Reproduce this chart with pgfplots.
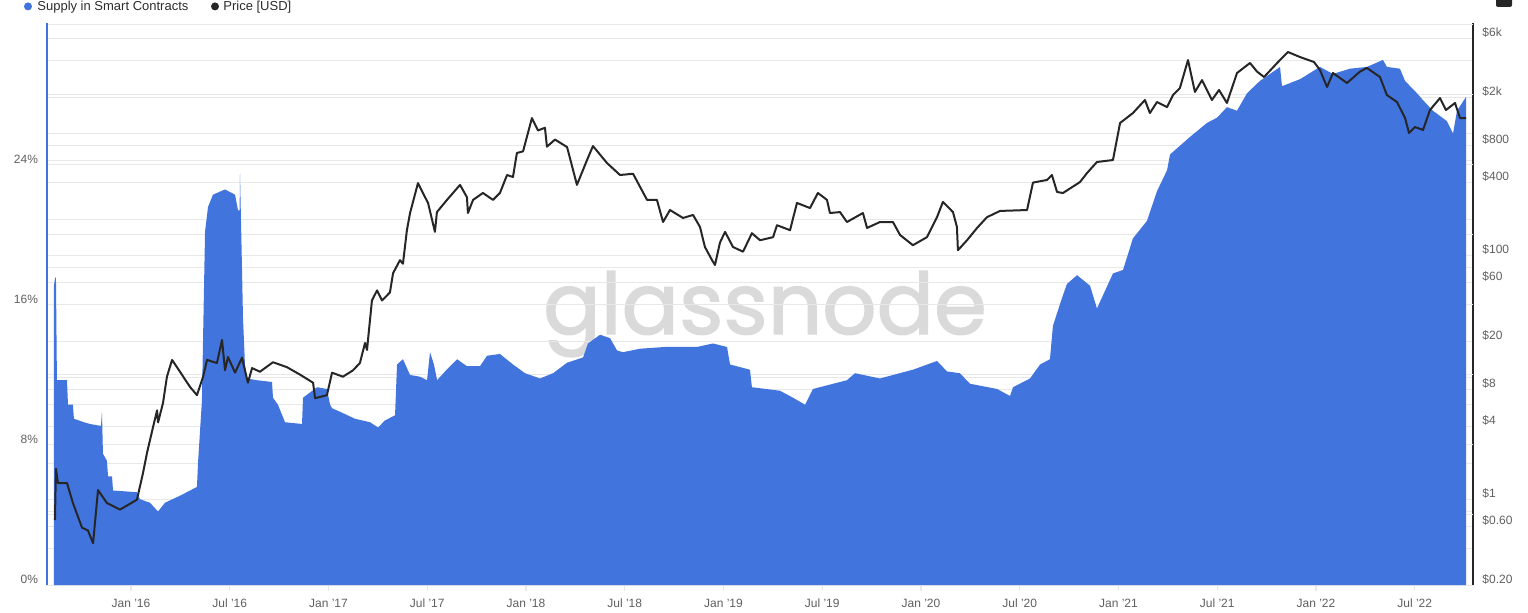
\documentclass[border=0pt]{standalone}
\usepackage{fontspec}
\setmainfont{Liberation Sans}
\newfontfamily\wmfont[FakeBold=1.6]{Poppins}
\usepackage{pgfplots}
\pgfplotsset{compat=1.18}
\usepackage{pgfplotstable}
\definecolor{gnblue}{RGB}{66,116,222}
\definecolor{gnline}{RGB}{38,38,38}
\definecolor{gridc}{RGB}{232,232,232}
\definecolor{tickc}{RGB}{95,95,95}
\definecolor{legc}{RGB}{45,45,45}
\definecolor{wmc}{RGB}{218,218,218}

\pgfplotstableread{
x y
2015.610 17.1
2015.615 17.5
2015.620 17.6
2015.625 11.7
2015.676 11.7
2015.681 10.3
2015.706 10.3
2015.711 9.5
2015.762 9.3
2015.792 9.2
2015.843 9.1
2015.848 9.1
2015.853 9.9
2015.858 7.5
2015.878 7.1
2015.884 6.2
2015.904 6.2
2015.909 5.4
2016.030 5.3
2016.046 4.9
2016.096 4.7
2016.137 4.2
2016.172 4.7
2016.248 5.1
2016.299 5.4
2016.334 5.6
2016.339 6.9
2016.359 10.5
2016.375 20.2
2016.390 21.6
2016.415 22.3
2016.476 22.6
2016.527 22.3
2016.542 21.4
2016.550 21.4
2016.552 23.5
2016.557 20.8
2016.562 18.1
2016.567 15.3
2016.577 12.6
2016.587 11.8
2016.638 11.7
2016.714 11.6
2016.719 10.7
2016.744 10.3
2016.780 9.3
2016.866 9.2
2016.871 10.7
2016.942 11.3
2016.992 11.2
2017.008 10.3
2017.018 10.1
2017.058 9.9
2017.134 9.5
2017.210 9.3
2017.251 9.0
2017.286 9.4
2017.337 9.7
2017.347 12.6
2017.377 12.9
2017.413 12.0
2017.463 11.9
2017.499 11.7
2017.514 13.3
2017.534 12.6
2017.550 11.7
2017.590 12.2
2017.651 12.9
2017.701 12.5
2017.767 12.5
2017.803 13.1
2017.868 13.2
2017.934 12.6
2017.995 12.1
2018.071 11.8
2018.137 12.1
2018.208 12.7
2018.289 13.0
2018.314 13.8
2018.375 14.3
2018.426 14.1
2018.461 13.4
2018.491 13.3
2018.577 13.5
2018.704 13.6
2018.866 13.6
2018.947 13.8
2019.018 13.6
2019.033 12.6
2019.134 12.3
2019.144 11.3
2019.286 11.1
2019.352 10.7
2019.413 10.3
2019.453 11.2
2019.625 11.7
2019.666 12.1
2019.792 11.8
2019.959 12.3
2020.081 12.8
2020.132 12.2
2020.197 12.1
2020.248 11.5
2020.385 11.2
2020.451 10.8
2020.466 11.3
2020.552 11.8
2020.603 12.6
2020.653 12.9
2020.668 14.8
2020.714 16.4
2020.739 17.2
2020.790 17.7
2020.856 17.1
2020.891 15.8
2020.972 17.8
2021.023 18.0
2021.073 19.8
2021.144 20.8
2021.195 22.5
2021.246 23.7
2021.261 24.6
2021.362 25.6
2021.448 26.4
2021.499 26.7
2021.549 27.3
2021.600 27.1
2021.651 28.1
2021.716 28.8
2021.818 29.6
2021.828 28.5
2021.919 28.9
2022.020 29.6
2022.086 29.2
2022.172 29.5
2022.258 29.6
2022.339 30.0
2022.359 29.6
2022.425 29.5
2022.451 28.8
2022.511 28.1
2022.542 27.7
2022.592 27.1
2022.663 26.5
2022.694 25.8
2022.714 27.1
2022.755 27.8
2022.760 27.9
}\supply

\pgfplotstableread{
x p
2015.615 0.68
2015.620 1.8
2015.630 1.37
2015.676 1.37
2015.706 0.94
2015.752 0.59
2015.782 0.56
2015.808 0.44
2015.833 1.2
2015.878 0.94
2015.944 0.83
2016.030 1.0
2016.061 1.66
2016.081 2.42
2016.111 3.9
2016.132 5.4
2016.137 4.3
2016.162 6.2
2016.182 10.2
2016.208 14.0
2016.248 11.2
2016.299 8.4
2016.334 7.2
2016.365 10.2
2016.385 14.0
2016.435 13.2
2016.461 20.4
2016.476 11.5
2016.491 14.8
2016.527 11.0
2016.562 14.6
2016.592 9.1
2016.613 12.0
2016.653 11.2
2016.719 13.4
2016.790 12.2
2016.856 10.6
2016.922 9.1
2016.932 6.8
2016.992 7.2
2017.018 11.0
2017.073 10.2
2017.124 11.5
2017.159 13.2
2017.185 19.3
2017.195 16.9
2017.220 43
2017.246 52
2017.271 43
2017.311 50
2017.327 72
2017.362 92
2017.377 86
2017.397 162
2017.413 224
2017.453 394
2017.478 327
2017.504 271
2017.539 157
2017.549 228
2017.600 287
2017.666 381
2017.701 302
2017.706 224
2017.732 287
2017.782 327
2017.833 287
2017.868 327
2017.904 459
2017.934 442
2017.954 696
2017.985 717
2018.030 1344
2018.061 1064
2018.096 1120
2018.106 784
2018.147 896
2018.208 778
2018.258 381
2018.309 609
2018.339 793
2018.410 576
2018.476 459
2018.542 470
2018.613 287
2018.663 287
2018.694 189
2018.729 237
2018.795 204
2018.846 216
2018.881 172
2018.906 118
2018.942 92
2018.957 84
2018.982 128
2019.008 157
2019.048 118
2019.099 108
2019.144 153
2019.185 134
2019.251 142
2019.271 178
2019.337 162
2019.372 271
2019.438 246
2019.478 327
2019.524 287
2019.539 224
2019.590 228
2019.625 189
2019.706 224
2019.727 169
2019.792 189
2019.858 189
2019.894 148
2019.959 122
2020.030 142
2020.081 207
2020.111 276
2020.162 228
2020.182 172
2020.187 111
2020.233 134
2020.284 169
2020.334 207
2020.400 233
2020.537 237
2020.567 398
2020.638 418
2020.663 459
2020.689 333
2020.719 327
2020.805 402
2020.841 477
2020.891 587
2020.972 609
2021.008 1225
2021.073 1478
2021.134 1891
2021.159 1478
2021.195 1821
2021.246 1655
2021.276 2076
2021.311 2372
2021.352 4021
2021.387 2200
2021.423 2755
2021.473 1891
2021.509 2285
2021.549 1788
2021.600 3147
2021.666 3804
2021.701 3237
2021.737 2919
2021.808 3873
2021.858 4679
2021.919 4256
2021.990 3873
2022.020 3329
2022.056 2417
2022.086 3147
2022.157 2607
2022.223 3237
2022.258 3461
2022.324 2919
2022.359 2076
2022.410 1821
2022.451 1346
2022.471 1015
2022.501 1136
2022.542 1075
2022.577 1565
2022.628 1963
2022.658 1565
2022.704 1788
2022.729 1346
2022.760 1346
}\price

\pgfplotsset{
  gnbase/.style={
    at={(23.5pt,13.5pt)}, anchor=south west,
    scale only axis, width=713pt, height=281pt,
    xmin=2015.5747, xmax=2022.795,
  },
  tickfont/.style={font=\fontsize{6}{7}\selectfont, text=tickc},
}

\begin{document}
\begin{tikzpicture}
\useasboundingbox (0pt,0pt) rectangle (764pt,306pt);

% watermark
\node[anchor=base, inner sep=0pt, text=wmc, font=\wmfont\fontsize{42.5}{42.5}\selectfont] at (382.5pt,139pt) {glassnode};

% price axis: grid and right labels
\begin{axis}[gnbase,
  ymode=log, ymin=0.2, ymax=8090,
  axis x line=none,
  axis y line*=right,
  y axis line style={-, draw=gnline, line width=1pt},
  ytick={0.2,0.4,0.6,0.8,1,2,4,6,8,10,20,40,60,80,100,200,400,600,800,1000,2000,4000,6000},
  yticklabels={\$0.20,,\$0.60,,\$1,,\$4,,\$8,,\$20,,\$60,,\$100,,\$400,,\$800,,\$2k,,\$6k},
  yminorticks=false,
  yticklabel pos=right,
  ymajorgrids, major grid style={draw=gridc, line width=0.5pt},
  ytick style={draw=none},
  yticklabel style={tickfont, anchor=west, xshift=1.2pt, yshift=3pt},
]
\end{axis}

% supply axis: area, left labels, x labels
\begin{axis}[gnbase,
  ymin=0, ymax=32.11,
  axis x line*=bottom, x axis line style={draw=none},
  axis y line*=left,
  y axis line style={-, draw=gnblue, line width=1pt},
  xtick={2016,2016.5,2017,2017.5,2018,2018.5,2019,2019.5,2020,2020.5,2021,2021.5,2022,2022.5},
  xticklabels={Jan '16,Jul '16,Jan '17,Jul '17,Jan '18,Jul '18,Jan '19,Jul '19,Jan '20,Jul '20,Jan '21,Jul '21,Jan '22,Jul '22},
  ytick={0,4,8,12,16,20,24,28,32},
  yticklabels={0\%,,8\%,,16\%,,24\%,,},
  ymajorgrids, major grid style={draw=gridc, line width=0.5pt},
  ytick style={draw=none},
  xtick style={draw=gridc, line width=0.6pt},
  tick align=outside, major tick length=3pt,
  xticklabel style={tickfont, yshift=-0.5pt},
  yticklabel style={tickfont, xshift=2pt, yshift=2.75pt},
]
\addplot[fill=gnblue, draw=none] table[x=x,y=y]{\supply} \closedcycle;
\end{axis}

% price line
\begin{axis}[gnbase, ymode=log, ymin=0.2, ymax=8090, hide axis]
\addplot[draw=gnline, line width=1pt, line join=round] table[x=x,y=p]{\price};
\end{axis}

% legend
\fill[gnblue] (14pt,302.8pt) circle (2pt);
\node[anchor=base west, inner sep=0pt, text=legc, font=\fontsize{6.5}{7}\selectfont] at (18.5pt,300.8pt) {Supply in Smart Contracts};
\fill[gnline] (107.5pt,302.8pt) circle (2pt);
\node[anchor=base west, inner sep=0pt, text=legc, font=\fontsize{6.5}{7}\selectfont] at (111.5pt,300.8pt) {Price [USD]};
\fill[gnline, rounded corners=1pt] (748pt,302.5pt) rectangle (756pt,310pt);
\end{tikzpicture}
\end{document}
